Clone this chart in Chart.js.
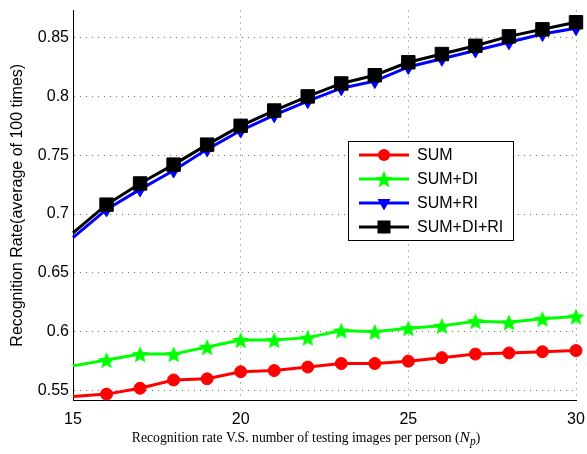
<!DOCTYPE html>
<html>
<head>
<meta charset="utf-8">
<script src="https://cdn.jsdelivr.net/npm/chart.js@4"></script>
<style>
  html, body { margin: 0; padding: 0; background: #fff; }
</style>
</head>
<body>
<canvas id="chart" width="587" height="454"></canvas>
<script>

// number of testing images per person (N_p)
const testImages = [15, 16, 17, 18, 19, 20, 21, 22, 23, 24, 25, 26, 27, 28, 29, 30];

const sumRate      = [0.545, 0.547, 0.552, 0.559, 0.560, 0.566, 0.567, 0.570, 0.573, 0.573, 0.575, 0.578, 0.581, 0.582, 0.583, 0.584];
const sumDiRate    = [0.571, 0.576, 0.581, 0.581, 0.587, 0.593, 0.593, 0.595, 0.601, 0.600, 0.603, 0.605, 0.609, 0.608, 0.611, 0.613];
const sumRiRate    = [0.680, 0.704, 0.721, 0.737, 0.755, 0.771, 0.784, 0.796, 0.807, 0.813, 0.825, 0.832, 0.839, 0.846, 0.853, 0.858];
const sumDiRiRate  = [0.684, 0.708, 0.726, 0.742, 0.759, 0.775, 0.788, 0.800, 0.811, 0.818, 0.829, 0.836, 0.843, 0.851, 0.857, 0.863];

const seriesNames = ['SUM', 'SUM+DI', 'SUM+RI', 'SUM+DI+RI'];

const xTickValues = [15, 20, 25, 30];
const yTickValues = [0.55, 0.6, 0.65, 0.7, 0.75, 0.8, 0.85];

const sansFont = '"Liberation Sans", Arial, sans-serif';
const serifFont = '"Liberation Serif", "Times New Roman", serif';


// filled five point star, like the matlab pentagram marker
function makeStar(color, r) {
  let c = document.createElement('canvas');
  let s = Math.ceil(r * 2 + 2);
  c.width = s;
  c.height = s;
  let g = c.getContext('2d');
  g.beginPath();
  for (let i = 0; i < 10; i++) {
    let rad = i % 2 ? r * 0.45 : r;
    let a = -Math.PI / 2 + i * Math.PI / 5;
    g.lineTo(s / 2 + rad * Math.cos(a), s / 2 + 1 + rad * Math.sin(a));
  }
  g.closePath();
  g.fillStyle = color;
  g.fill();
  return c;
}

const greenStar = makeStar('#00ff00', 9);

function series(label, values, color, style, radius, rotation, order) {
  return {
    label: label,
    data: testImages.map((x, i) => ({x: x, y: values[i]})),
    borderColor: color,
    backgroundColor: color,
    borderWidth: 3,
    pointStyle: style,
    pointRotation: rotation,
    // first point sits on the axis edge, no marker there in the original
    pointRadius: ctx => ctx.dataIndex === 0 ? 0 : radius,
    pointBorderWidth: 1,
    pointBackgroundColor: color,
    pointBorderColor: color,
    tension: 0,
    clip: false,
    order: order
  };
}

const datasets = [
  series(seriesNames[0], sumRate, '#ff0000', 'circle', 6, 0, 3),
  series(seriesNames[1], sumDiRate, '#00ff00', greenStar, 8, 0, 2),
  series(seriesNames[2], sumRiRate, '#0000ff', 'triangle', 7.5, 180, 1),
  series(seriesNames[3], sumDiRiRate, '#000000', 'rect', 9.5, 0, 0)
];


function drawMarker(ctx, ds, x, y) {
  ctx.save();
  ctx.fillStyle = ds.borderColor;
  ctx.strokeStyle = ds.borderColor;
  ctx.lineWidth = 1;
  if (ds.pointStyle === 'circle') {
    ctx.beginPath();
    ctx.arc(x, y, 6, 0, Math.PI * 2);
    ctx.fill();
  } else if (ds.pointStyle === 'triangle') {
    ctx.beginPath();
    ctx.moveTo(x - 6.5, y - 4);
    ctx.lineTo(x + 6.5, y - 4);
    ctx.lineTo(x, y + 7.5);
    ctx.closePath();
    ctx.fill();
  } else if (ds.pointStyle === 'rect') {
    ctx.fillRect(x - 6.5, y - 6.5, 13, 13);
  } else {
    ctx.drawImage(ds.pointStyle, x - ds.pointStyle.width / 2, y - ds.pointStyle.height / 2);
  }
  ctx.restore();
}

const decorations = {
  id: 'decorations',
  afterDraw(chart) {
    let ctx = chart.ctx;
    let area = chart.chartArea;

    // y axis title
    ctx.save();
    ctx.translate(18, (area.top + area.bottom) / 2);
    ctx.rotate(-Math.PI / 2);
    ctx.font = '16px ' + sansFont;
    ctx.fillStyle = '#000';
    ctx.textAlign = 'center';
    ctx.textBaseline = 'middle';
    ctx.fillText('Recognition Rate(average of 100 times)', 0, 0);
    ctx.restore();

    // x axis title with N_p
    ctx.save();
    ctx.fillStyle = '#000';
    ctx.textBaseline = 'alphabetic';
    let parts = [
      {t: 'Recognition rate V.S. number of testing images per person (', f: '13.7px ' + serifFont, dy: 0},
      {t: 'N', f: 'italic 15.5px ' + serifFont, dy: 0},
      {t: 'p', f: 'italic 11.5px ' + serifFont, dy: 3},
      {t: ')', f: '13.7px ' + serifFont, dy: 0}
    ];
    let total = 0;
    for (let p of parts) {
      ctx.font = p.f;
      p.w = ctx.measureText(p.t).width;
      total += p.w;
    }
    let x = 306 - total / 2;
    for (let p of parts) {
      ctx.font = p.f;
      ctx.fillText(p.t, x, 442 + p.dy);
      x += p.w;
    }
    ctx.restore();

    // legend box
    ctx.save();
    ctx.fillStyle = '#fff';
    ctx.fillRect(348.5, 141.5, 165, 99);
    ctx.strokeStyle = '#000';
    ctx.lineWidth = 1;
    ctx.strokeRect(348.5, 141.5, 165, 99);
    ctx.font = '16px ' + sansFont;
    ctx.textBaseline = 'middle';
    chart.data.datasets.forEach((ds, i) => {
      let y = 155 + i * 24;
      ctx.strokeStyle = ds.borderColor;
      ctx.lineWidth = 3;
      ctx.beginPath();
      ctx.moveTo(359, y);
      ctx.lineTo(409, y);
      ctx.stroke();
      drawMarker(ctx, ds, 384, y);
      ctx.fillStyle = '#000';
      ctx.fillText(ds.label, 417, y + 1);
    });
    ctx.restore();
  }
};

const gridStyle = {
  color: 'rgba(0, 0, 0, 0.55)',
  lineWidth: 1,
  drawTicks: false
};

const config = {
  type: 'line',
  data: {datasets: datasets},
  options: {
    responsive: false,
    animation: false,
    layout: {
      padding: {top: 5, right: 11, left: 0, bottom: 0}
    },
    plugins: {
      legend: {display: false},
      tooltip: {enabled: false}
    },
    scales: {
      x: {
        type: 'linear',
        min: 15,
        max: 30,
        afterBuildTicks: scale => {
          scale.ticks = xTickValues.map(v => ({value: v}));
        },
        ticks: {
          font: {family: sansFont, size: 16},
          color: '#000',
          padding: 10,
          maxRotation: 0,
          autoSkip: false,
          callback: v => String(v)
        },
        grid: gridStyle,
        border: {display: true, color: '#000', width: 1, dash: [1, 5]},
        afterFit: scale => {
          scale.height = 54;
          scale.paddingLeft = 0;
          scale.paddingRight = 0;
        }
      },
      y: {
        min: 0.542,
        max: 0.873,
        afterBuildTicks: scale => {
          scale.ticks = yTickValues.map(v => ({value: v}));
        },
        ticks: {
          font: {family: sansFont, size: 16},
          color: '#000',
          padding: 4,
          autoSkip: false,
          callback: v => String(+v.toFixed(2))
        },
        grid: gridStyle,
        border: {display: true, color: '#000', width: 1, dash: [1, 5]},
        afterFit: scale => {
          scale.width = 73;
          scale.paddingTop = 0;
          scale.paddingBottom = 0;
        }
      }
    }
  },
  plugins: [decorations]
};

var chart = new Chart(document.getElementById('chart'), config);

</script>
</body>
</html>
